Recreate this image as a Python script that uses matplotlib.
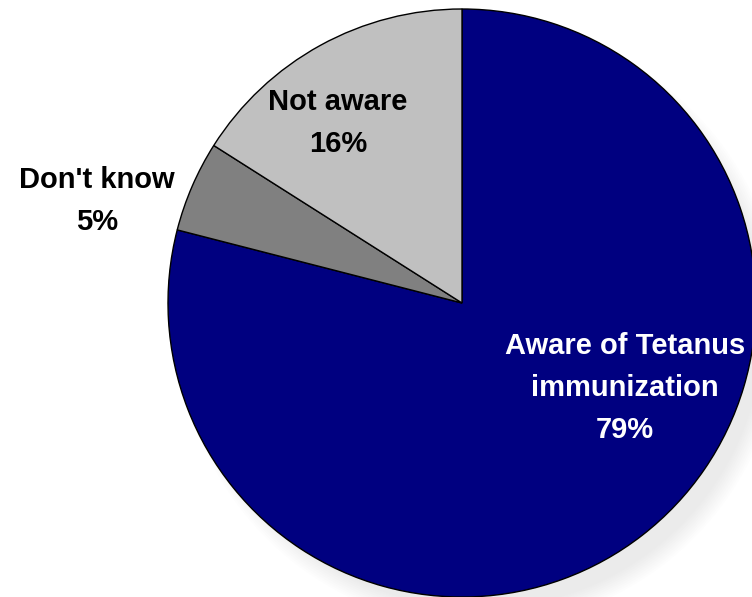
import numpy as np
import matplotlib.pyplot as plt
from matplotlib.patches import Circle

# pie data, clockwise from 12 o'clock
categories = ["Aware of Tetanus\nimmunization", "Don't know", "Not aware"]
values = [79, 5, 16]
colors = ["#000080", "#808080", "#C0C0C0"]
text_colors = ["white", "black", "black"]

W, H = 752, 597
fig = plt.figure(figsize=(W / 100, H / 100), dpi=100)
ax = fig.add_axes([0, 0, 1, 1])

cx, cy, r = 462, H - 303, 294

# faint soft shadow behind the pie (bottom right)
for i in range(10):
    ax.add_patch(Circle((cx + 18, cy - 22), r + 8 - i * 2, color="#b0b0b0",
                        alpha=0.018, lw=0, zorder=0))

ax.pie(values, colors=colors, startangle=90, counterclock=False,
       center=(cx, cy), radius=r, frame=True,
       wedgeprops=dict(edgecolor="black", linewidth=1.0))
ax.set_xlim(0, W)
ax.set_ylim(0, H)
ax.set_aspect("equal")
ax.axis("off")

# label positions (pixels, from top)
label_pos = [(625, 388), (97, 201), (338, 123)]
for cat, v, tc, (x, y) in zip(categories, values, text_colors, label_pos):
    ax.text(x, H - y, f"{cat}\n{v}%", ha="center", va="center", color=tc,
            fontsize=21, fontweight="bold", family="Liberation Sans",
            linespacing=1.62, zorder=5)

fig.savefig("out.png", dpi=100)
